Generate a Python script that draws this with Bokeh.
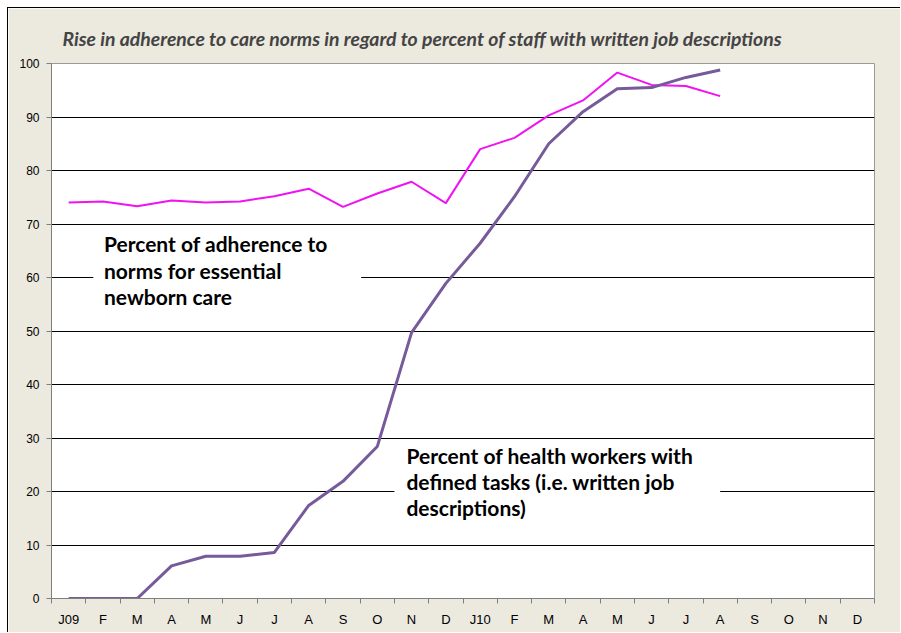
from bokeh.plotting import figure
from bokeh.models import FixedTicker, LinearAxis, Range1d, Label, BoxAnnotation, Grid
from bokeh.embed import file_html
from bokeh.resources import INLINE

months = ["J09", "F", "M", "A", "M", "J", "J", "A", "S", "O", "N", "D",
          "J10", "F", "M", "A", "M", "J", "J", "A", "S", "O", "N", "D"]
adherence = [74.0, 74.2, 73.3, 74.4, 74.0, 74.2, 75.2, 76.6, 73.2, 75.7, 77.9, 73.9,
             84.0, 86.1, 90.3, 93.1, 98.3, 96.0, 95.8, 93.9]
job_desc = [0, 0, 0, 6.1, 7.9, 7.9, 8.6, 17.4, 21.9, 28.4, 49.7, 58.9,
            66.4, 75.1, 85.0, 91.0, 95.3, 95.5, 97.4, 98.8]
y_ticks = [0, 10, 20, 30, 40, 50, 60, 70, 80, 90, 100]
grid_ticks = [10, 20, 30, 40, 50, 60, 70, 80, 90]
title_text = "Rise in adherence to care norms in regard to percent of staff with written job descriptions"
label1 = "Percent of adherence to\nnorms for essential\nnewborn care"
label2 = "Percent of health workers with\ndefined tasks (i.e. written job\ndescriptions)"

BG = "#ECE9DF"
xs_a = [i + 0.5 for i in range(len(adherence))]
xs_j = [i + 0.5 for i in range(len(job_desc))]
centers = [i + 0.5 for i in range(len(months))]
bounds = list(range(len(months) + 1))

p = figure(width=893, height=625, output_backend="svg", toolbar_location=None,
           x_range=Range1d(0, len(months)), y_range=Range1d(0, 100),
           min_border_left=43, min_border_right=27, min_border_top=55, min_border_bottom=35,
           x_axis_type=None, y_axis_type=None)
p.styles = {"margin-left": "7px", "margin-top": "7px",
            "border-top": "1px solid black", "border-left": "1px solid black"}
p.background_fill_color = "white"
p.border_fill_color = BG
p.outline_line_color = "#9a9a9a"
p.outline_line_width = 1

# y axis
yax = LinearAxis(ticker=FixedTicker(ticks=y_ticks))
yax.axis_line_color = "#7f7f7f"
yax.major_tick_line_color = "#7f7f7f"
yax.major_tick_in = 0
yax.major_tick_out = 5
yax.minor_tick_line_color = None
yax.major_label_standoff = 7
yax.major_label_text_font = "Liberation Sans"
yax.major_label_text_font_size = "12px"
yax.major_label_text_color = "black"
p.add_layout(yax, "left")

# x axis: labels at month centres, tick marks at month boundaries
xax = LinearAxis(ticker=FixedTicker(ticks=centers, minor_ticks=bounds))
xax.major_label_overrides = {c: m for c, m in zip(centers, months)}
xax.axis_line_color = "#7f7f7f"
xax.major_tick_line_color = None
xax.major_tick_in = 0
xax.major_tick_out = 0
xax.minor_tick_line_color = "#7f7f7f"
xax.minor_tick_in = 0
xax.minor_tick_out = 5
xax.major_label_standoff = 8
xax.major_label_text_font = "Liberation Sans"
xax.major_label_text_font_size = "13px"
xax.major_label_text_color = "black"
p.add_layout(xax, "below")

grid = Grid(dimension=1, ticker=FixedTicker(ticks=grid_ticks),
            grid_line_color="black", grid_line_width=1)
p.add_layout(grid)

p.line(xs_a, adherence, line_color="#F012F0", line_width=2)
p.line(xs_j, job_desc, line_color="#775A99", line_width=3)

# label boxes hiding gridlines
p.add_layout(BoxAnnotation(left=1.22, right=9.03, bottom=53.5, top=68.5,
                           fill_color="white", fill_alpha=1, line_color=None))
p.add_layout(BoxAnnotation(left=10.0, right=19.5, bottom=13.8, top=29.6,
                           fill_color="white", fill_alpha=1, line_color=None))

p.add_layout(Label(x=1.53, y=68.6, text=label1, text_font="Lato", text_font_style="bold",
                   text_font_size="21px", text_baseline="top", text_line_height=1.05,
                   text_color="black"))
p.add_layout(Label(x=10.35, y=29.1, text=label2, text_font="Lato", text_font_style="bold",
                   text_font_size="21px", text_baseline="top", text_line_height=1.05,
                   text_color="black"))

p.title.text = title_text
p.title.text_font = "Lato"
p.title.text_font_style = "bold italic"
p.title.text_font_size = "19.4px"
p.title.align = "left"
p.title.offset = 11
p.title.standoff = 28

open("out.html", "w").write(file_html(p, INLINE))
